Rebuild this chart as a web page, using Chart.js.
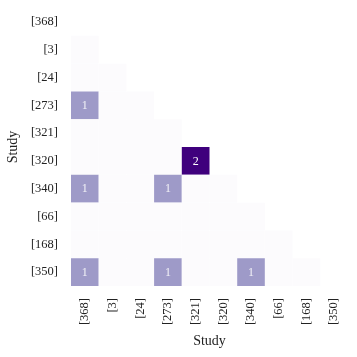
<!DOCTYPE html>
<html>
<head>
<meta charset="utf-8">
<script src="https://cdn.jsdelivr.net/npm/chart.js@4.4.1/dist/chart.umd.min.js"></script>
<style>
  html, body { margin: 0; padding: 0; background: #fff; }
  #wrap { width: 357px; height: 357px; }
</style>
</head>
<body>
<div id="wrap"><canvas id="heatChart"></canvas></div>
<script>
const studies = ['[368]', '[3]', '[24]', '[273]', '[321]', '[320]', '[340]', '[66]', '[168]', '[350]'];

// lower triangle: row i holds counts against studies[0..i-1]
const counts = [
    [],
    [0],
    [0, 0],
    [1, 0, 0],
    [0, 0, 0, 0],
    [0, 0, 0, 0, 2],
    [1, 0, 0, 1, 0, 0],
    [0, 0, 0, 0, 0, 0, 0],
    [0, 0, 0, 0, 0, 0, 0, 0],
    [1, 0, 0, 1, 0, 0, 1, 0, 0],
];

const maxCount = 2;
const purples = ['#fcfbfd', '#efedf5', '#dadaeb', '#bcbddc', '#9e9ac8', '#807dba', '#6a51a3', '#54278f', '#3f007d'];
const colorFor = v => purples[Math.round(v / maxCount * (purples.length - 1))];

const cells = [];
counts.forEach((row, i) => row.forEach((v, j) => cells.push({ x: studies[j], y: studies[i], v })));

const serif = "'Liberation Serif', 'DejaVu Serif', serif";

const cellHalf = ctx => {
    const area = ctx.chart.chartArea;
    if (!area) return 0;
    return (area.right - area.left) / studies.length / 2 * Math.SQRT2;
};

const cellText = {
    id: 'cellText',
    afterDatasetsDraw(chart) {
        const c = chart.ctx;
        const meta = chart.getDatasetMeta(0);
        c.save();
        c.font = "12px " + serif;
        c.textAlign = 'center';
        c.textBaseline = 'middle';
        meta.data.forEach((pt, k) => {
            const v = cells[k].v;
            if (!v) return;
            c.fillStyle = v >= maxCount ? '#ffffff' : '#f2f2f7';
            c.fillText(String(v), pt.x, pt.y + 0.5);
        });
        c.restore();
    },
};

new Chart(document.getElementById('heatChart').getContext('2d'), {
    type: 'scatter',
    data: {
        datasets: [{
            data: cells,
            pointStyle: 'rect',
            radius: cellHalf,
            hoverRadius: cellHalf,
            borderWidth: 0,
            backgroundColor: ctx => colorFor(ctx.raw ? ctx.raw.v : 0),
        }],
    },
    options: {
        responsive: true,
        maintainAspectRatio: false,
        animation: false,
        events: [],
        layout: { padding: { top: 8, right: 9, left: 0, bottom: 0 } },
        plugins: { legend: { display: false }, tooltip: { enabled: false } },
        scales: {
            x: {
                type: 'category',
                labels: studies,
                offset: true,
                grid: { display: false, drawTicks: false },
                border: { display: false },
                ticks: { color: '#222', font: { family: serif, size: 12.5 }, maxRotation: 90, minRotation: 90, padding: 12 },
                title: { display: true, text: 'Study', color: '#222', font: { family: serif, size: 14 }, padding: { bottom: 7 } },
                afterFit: scale => {
                    scale.height = 71;
                    scale.paddingLeft = 0;
                    scale.paddingRight = 0;
                },
            },
            y: {
                type: 'category',
                labels: studies,
                offset: true,
                grid: { display: false, drawTicks: false },
                border: { display: false },
                ticks: { color: '#222', font: { family: serif, size: 12.5 }, padding: 13 },
                title: { display: true, text: 'Study', color: '#222', font: { family: serif, size: 14 }, padding: { top: 5 } },
                afterFit: scale => {
                    scale.width = 71;
                    scale.paddingTop = 0;
                    scale.paddingBottom = 0;
                },
            },
        },
    },
    plugins: [cellText],
});
</script>
</body>
</html>
